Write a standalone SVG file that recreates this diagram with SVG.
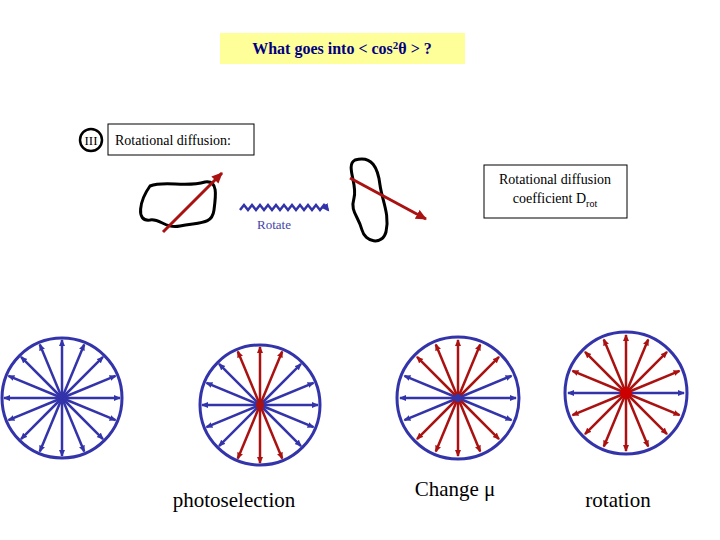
<svg xmlns="http://www.w3.org/2000/svg" xmlns:xlink="http://www.w3.org/1999/xlink" width="720" height="540" viewBox="0 0 720 540">
<style>
.t{font-family:"Liberation Serif",serif;fill:#000}
.ring{fill:none;stroke:#3333aa;stroke-width:3}
.b{stroke:#3333aa;stroke-width:2.5;marker-end:url(#ab)}
.r{stroke:#aa1111;stroke-width:2.5;marker-end:url(#ar)}
.box{fill:#fff;stroke:#000;stroke-width:1}
</style>
<defs>
<marker id="ab" markerWidth="8" markerHeight="8" refX="6" refY="3" orient="auto" markerUnits="userSpaceOnUse"><path d="M0,0L7,3L0,6z" fill="#3333aa"/></marker>
<marker id="ar" markerWidth="8" markerHeight="8" refX="6" refY="3" orient="auto" markerUnits="userSpaceOnUse"><path d="M0,0L7,3L0,6z" fill="#aa1111"/></marker>
<marker id="ar2" markerWidth="14" markerHeight="12" refX="10" refY="5" orient="auto" markerUnits="userSpaceOnUse"><path d="M0,0L11,5L0,10z" fill="#aa1111"/></marker>
<marker id="ab2" markerWidth="10" markerHeight="10" refX="6" refY="4" orient="auto" markerUnits="userSpaceOnUse"><path d="M0,0L8,4L0,8z" fill="#3333aa"/></marker>
<line id="sb" class="b" x1="0" y1="0" x2="0" y2="-58"/>
<line id="sr" class="r" x1="0" y1="0" x2="0" y2="-58"/>
</defs>
<g id="title"><rect x="220" y="33" width="245" height="31" fill="#ffff99"/>
<text x="342" y="54" text-anchor="middle" font-family="Liberation Serif,serif" font-weight="bold" font-size="16" fill="#000080">What goes into  &lt; cos<tspan font-size="11" dy="-5">2</tspan><tspan dy="5">θ &gt; ?</tspan></text></g>
<g id="label3"><circle cx="91" cy="140" r="11" fill="none" stroke="#000" stroke-width="2.5"/><text class="t" x="91" y="145" text-anchor="middle" font-size="13">III</text></g>
<g id="rotbox"><rect class="box" x="108" y="124" width="146" height="31"/><text class="t" x="115" y="145" font-size="14">Rotational diffusion:</text></g>
<g id="coefbox"><rect class="box" x="484" y="165" width="143" height="53"/><text class="t" x="555" y="184" text-anchor="middle" font-size="14">Rotational diffusion</text><text class="t" x="555" y="203" text-anchor="middle" font-size="14">coefficient D<tspan font-size="10" dy="4">rot</tspan></text></g>
<g id="blob1"><path d="M150,186 C165,180 185,188 205,182 C218,180 216,195 214,210 C212,225 200,222 180,226 C165,229 160,218 150,220 C135,222 140,200 150,186 Z" fill="none" stroke="#000" stroke-width="3"/>
<line x1="163" y1="232" x2="222" y2="173" stroke="#aa1111" stroke-width="3" marker-end="url(#ar2)"/></g>
<g id="blob2"><path d="M355,160 C372,155 378,168 380,185 C382,200 390,215 386,232 C382,246 365,242 362,230 C358,215 350,212 354,198 C358,185 345,165 355,160 Z" fill="none" stroke="#000" stroke-width="3"/>
<line x1="350" y1="178" x2="426" y2="219" stroke="#aa1111" stroke-width="3" marker-end="url(#ar2)"/></g>
<g id="connectors">
<path d="M240,210 l4,-5 l4,5 l4,-5 l4,5 l4,-5 l4,5 l4,-5 l4,5 l4,-5 l4,5 l4,-5 l4,5 l4,-5 l4,5 l4,-5 l4,5 l4,-5 l4,5 l4,-5 l4,5 l4,-5 l4,5" fill="none" stroke="#3333aa" stroke-width="2.5" marker-end="url(#ab2)"/>
<text x="274" y="229" text-anchor="middle" font-family="Liberation Serif,serif" font-size="13" fill="#4444aa">Rotate</text></g>
<g id="c1" transform="translate(62,398)"><circle class="ring" r="60"/>
<use href="#sb"/><use href="#sb" transform="rotate(22.5)"/><use href="#sb" transform="rotate(45)"/><use href="#sb" transform="rotate(67.5)"/><use href="#sb" transform="rotate(90)"/><use href="#sb" transform="rotate(112.5)"/><use href="#sb" transform="rotate(135)"/><use href="#sb" transform="rotate(157.5)"/><use href="#sb" transform="rotate(180)"/><use href="#sb" transform="rotate(202.5)"/><use href="#sb" transform="rotate(225)"/><use href="#sb" transform="rotate(247.5)"/><use href="#sb" transform="rotate(270)"/><use href="#sb" transform="rotate(292.5)"/><use href="#sb" transform="rotate(315)"/><use href="#sb" transform="rotate(337.5)"/></g>
<g id="c2" transform="translate(260,405)"><circle class="ring" r="60"/>
<use href="#sb" transform="rotate(45)"/><use href="#sb" transform="rotate(67.5)"/><use href="#sb" transform="rotate(90)"/><use href="#sb" transform="rotate(112.5)"/><use href="#sb" transform="rotate(135)"/><use href="#sb" transform="rotate(225)"/><use href="#sb" transform="rotate(247.5)"/><use href="#sb" transform="rotate(270)"/><use href="#sb" transform="rotate(292.5)"/><use href="#sb" transform="rotate(315)"/>
<use href="#sr"/><use href="#sr" transform="rotate(22.5)"/><use href="#sr" transform="rotate(157.5)"/><use href="#sr" transform="rotate(180)"/><use href="#sr" transform="rotate(202.5)"/><use href="#sr" transform="rotate(337.5)"/><circle r="4" fill="#aa1111"/></g>
<g id="c3" transform="translate(458,398)"><circle class="ring" r="61"/>
<use href="#sb" transform="rotate(67.5)"/><use href="#sb" transform="rotate(90)"/><use href="#sb" transform="rotate(112.5)"/><use href="#sb" transform="rotate(247.5)"/><use href="#sb" transform="rotate(270)"/><use href="#sb" transform="rotate(292.5)"/>
<use href="#sr"/><use href="#sr" transform="rotate(22.5)"/><use href="#sr" transform="rotate(45)"/><use href="#sr" transform="rotate(135)"/><use href="#sr" transform="rotate(157.5)"/><use href="#sr" transform="rotate(180)"/><use href="#sr" transform="rotate(202.5)"/><use href="#sr" transform="rotate(225)"/><use href="#sr" transform="rotate(315)"/><use href="#sr" transform="rotate(337.5)"/><circle r="4" fill="#3333aa"/></g>
<g id="c4" transform="translate(626,393)"><circle class="ring" r="61"/>
<use href="#sb" transform="rotate(90)"/><use href="#sb" transform="rotate(270)"/>
<use href="#sr"/><use href="#sr" transform="rotate(22.5)"/><use href="#sr" transform="rotate(45)"/><use href="#sr" transform="rotate(67.5)"/><use href="#sr" transform="rotate(112.5)"/><use href="#sr" transform="rotate(135)"/><use href="#sr" transform="rotate(157.5)"/><use href="#sr" transform="rotate(180)"/><use href="#sr" transform="rotate(202.5)"/><use href="#sr" transform="rotate(225)"/><use href="#sr" transform="rotate(247.5)"/><use href="#sr" transform="rotate(292.5)"/><use href="#sr" transform="rotate(315)"/><use href="#sr" transform="rotate(337.5)"/><circle r="6" fill="#cc0000"/></g>
<text class="t" x="234" y="507" text-anchor="middle" font-size="21">photoselection</text>
<text class="t" x="455" y="496" text-anchor="middle" font-size="21">Change μ</text>
<text class="t" x="618" y="507" text-anchor="middle" font-size="21">rotation</text>
</svg>
